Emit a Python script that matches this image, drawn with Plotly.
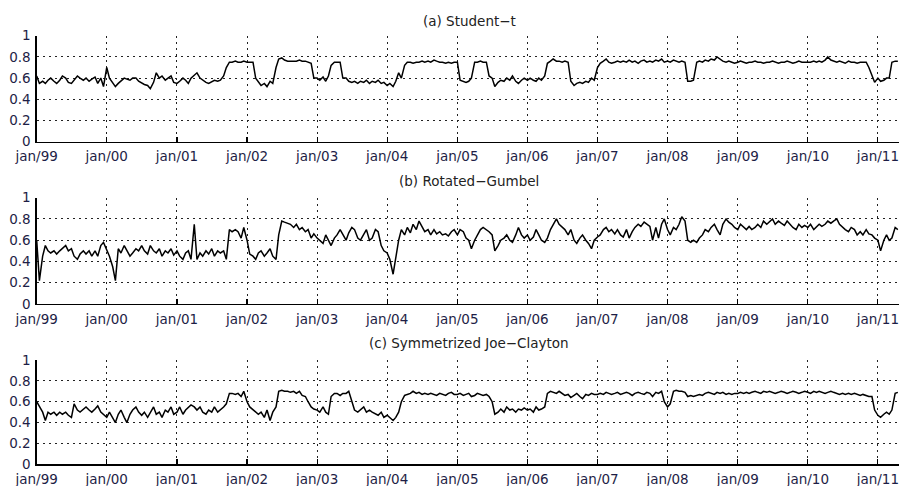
import pandas as pd
import plotly.graph_objects as go

# ---------------- data (semi-monthly readings, Jan 1999 - Apr 2011) ----------------
student_t = [
    # 1999
    0.62, 0.55, 0.57, 0.55, 0.58, 0.60, 0.57, 0.55, 0.58, 0.62, 0.60, 0.56,
    0.55, 0.58, 0.62, 0.60, 0.58, 0.60, 0.57, 0.59, 0.61, 0.55, 0.60, 0.52,
    # 2000
    0.70, 0.60, 0.55, 0.52, 0.55, 0.57, 0.60, 0.59, 0.58, 0.60, 0.60, 0.57,
    0.55, 0.54, 0.53, 0.50, 0.56, 0.65, 0.60, 0.62, 0.58, 0.60, 0.62, 0.56,
    # 2001
    0.55, 0.57, 0.60, 0.58, 0.55, 0.60, 0.63, 0.65, 0.60, 0.58, 0.56, 0.55,
    0.57, 0.58, 0.57, 0.58, 0.62, 0.70, 0.75, 0.75, 0.76, 0.75, 0.75, 0.76,
    # 2002
    0.75, 0.75, 0.75, 0.60, 0.57, 0.53, 0.55, 0.52, 0.57, 0.55, 0.70, 0.78,
    0.79, 0.77, 0.76, 0.76, 0.76, 0.76, 0.77, 0.76, 0.76, 0.75, 0.74, 0.60,
    # 2003
    0.60, 0.58, 0.61, 0.57, 0.62, 0.72, 0.75, 0.75, 0.75, 0.60, 0.60, 0.57,
    0.56, 0.57, 0.55, 0.57, 0.56, 0.58, 0.55, 0.57, 0.56, 0.58, 0.55, 0.56,
    # 2004
    0.53, 0.55, 0.52, 0.57, 0.65, 0.60, 0.72, 0.75, 0.75, 0.74, 0.75, 0.75,
    0.76, 0.75, 0.76, 0.75, 0.77, 0.76, 0.75, 0.75, 0.74, 0.75, 0.74, 0.75,
    # 2005
    0.75, 0.58, 0.57, 0.56, 0.57, 0.60, 0.75, 0.75, 0.76, 0.75, 0.75, 0.62,
    0.60, 0.52, 0.56, 0.58, 0.57, 0.60, 0.58, 0.62, 0.57, 0.55, 0.58, 0.60,
    # 2006
    0.58, 0.60, 0.58, 0.57, 0.60, 0.58, 0.62, 0.74, 0.76, 0.78, 0.76, 0.76,
    0.75, 0.76, 0.75, 0.57, 0.53, 0.55, 0.56, 0.55, 0.57, 0.56, 0.60, 0.58,
    # 2007
    0.70, 0.74, 0.76, 0.78, 0.75, 0.74, 0.75, 0.76, 0.75, 0.76, 0.75, 0.77,
    0.75, 0.76, 0.74, 0.76, 0.77, 0.75, 0.76, 0.75, 0.77, 0.76, 0.78, 0.75,
    # 2008
    0.76, 0.75, 0.77, 0.76, 0.75, 0.76, 0.75, 0.57, 0.57, 0.58, 0.75, 0.76,
    0.75, 0.77, 0.76, 0.78, 0.77, 0.80, 0.78, 0.76, 0.75, 0.76, 0.75, 0.74,
    # 2009
    0.75, 0.76, 0.75, 0.74, 0.75, 0.75, 0.76, 0.75, 0.75, 0.74, 0.75, 0.75,
    0.76, 0.75, 0.74, 0.75, 0.75, 0.76, 0.75, 0.74, 0.75, 0.76, 0.75, 0.75,
    # 2010
    0.75, 0.75, 0.76, 0.75, 0.76, 0.75, 0.77, 0.80, 0.77, 0.76, 0.75, 0.76,
    0.75, 0.74, 0.76, 0.75, 0.75, 0.74, 0.75, 0.75, 0.75, 0.70, 0.62, 0.56,
    # 2011
    0.60, 0.57, 0.58, 0.60, 0.60, 0.75, 0.76, 0.76,
]

rotated_gumbel = [
    # 1999
    0.60, 0.22, 0.45, 0.55, 0.50, 0.48, 0.50, 0.47, 0.50, 0.52, 0.55, 0.50,
    0.52, 0.45, 0.42, 0.47, 0.50, 0.47, 0.50, 0.45, 0.50, 0.45, 0.55, 0.58,
    # 2000
    0.50, 0.45, 0.35, 0.22, 0.52, 0.48, 0.55, 0.50, 0.45, 0.48, 0.52, 0.50,
    0.55, 0.50, 0.47, 0.55, 0.50, 0.48, 0.52, 0.45, 0.50, 0.48, 0.52, 0.46,
    # 2001
    0.50, 0.45, 0.42, 0.48, 0.50, 0.42, 0.75, 0.42, 0.48, 0.45, 0.50, 0.47,
    0.52, 0.45, 0.50, 0.48, 0.50, 0.42, 0.70, 0.68, 0.70, 0.68, 0.62, 0.72,
    # 2002
    0.60, 0.47, 0.45, 0.42, 0.48, 0.50, 0.45, 0.48, 0.52, 0.45, 0.42, 0.65,
    0.78, 0.77, 0.76, 0.75, 0.72, 0.75, 0.70, 0.72, 0.68, 0.70, 0.62, 0.66,
    # 2003
    0.62, 0.60, 0.57, 0.65, 0.60, 0.55, 0.62, 0.65, 0.70, 0.65, 0.60, 0.67,
    0.72, 0.70, 0.62, 0.60, 0.65, 0.70, 0.60, 0.62, 0.70, 0.68, 0.55, 0.50,
    # 2004
    0.48, 0.42, 0.28, 0.45, 0.60, 0.70, 0.65, 0.72, 0.67, 0.75, 0.70, 0.78,
    0.72, 0.68, 0.70, 0.65, 0.70, 0.66, 0.68, 0.65, 0.66, 0.64, 0.68, 0.70,
    # 2005
    0.65, 0.70, 0.68, 0.62, 0.60, 0.52, 0.60, 0.65, 0.70, 0.72, 0.70, 0.68,
    0.65, 0.50, 0.55, 0.60, 0.62, 0.65, 0.60, 0.58, 0.65, 0.72, 0.65, 0.62,
    # 2006
    0.65, 0.60, 0.63, 0.70, 0.65, 0.60, 0.58, 0.62, 0.70, 0.75, 0.80, 0.75,
    0.72, 0.70, 0.65, 0.70, 0.60, 0.57, 0.62, 0.65, 0.60, 0.57, 0.52, 0.60,
    # 2007
    0.63, 0.65, 0.70, 0.72, 0.68, 0.70, 0.66, 0.70, 0.65, 0.63, 0.70, 0.62,
    0.68, 0.72, 0.75, 0.73, 0.77, 0.75, 0.73, 0.60, 0.72, 0.62, 0.75, 0.80,
    # 2008
    0.70, 0.65, 0.72, 0.70, 0.75, 0.82, 0.78, 0.60, 0.58, 0.60, 0.58, 0.62,
    0.65, 0.70, 0.68, 0.72, 0.75, 0.70, 0.65, 0.75, 0.80, 0.77, 0.75, 0.72,
    # 2009
    0.70, 0.75, 0.72, 0.70, 0.73, 0.70, 0.72, 0.75, 0.72, 0.78, 0.75, 0.77,
    0.80, 0.75, 0.78, 0.76, 0.74, 0.78, 0.75, 0.72, 0.70, 0.75, 0.72, 0.74,
    # 2010
    0.72, 0.75, 0.70, 0.73, 0.75, 0.73, 0.75, 0.78, 0.76, 0.78, 0.80, 0.75,
    0.72, 0.70, 0.68, 0.72, 0.70, 0.65, 0.68, 0.65, 0.70, 0.66, 0.65, 0.62,
    # 2011
    0.60, 0.50, 0.60, 0.65, 0.60, 0.62, 0.72, 0.70,
]

joe_clayton = [
    # 1999
    0.60, 0.55, 0.50, 0.42, 0.50, 0.48, 0.50, 0.47, 0.50, 0.48, 0.50, 0.47,
    0.45, 0.58, 0.52, 0.50, 0.53, 0.55, 0.52, 0.50, 0.53, 0.56, 0.50, 0.48,
    # 2000
    0.45, 0.50, 0.45, 0.40, 0.48, 0.52, 0.45, 0.40, 0.48, 0.52, 0.55, 0.50,
    0.47, 0.50, 0.45, 0.50, 0.55, 0.48, 0.50, 0.45, 0.52, 0.50, 0.55, 0.48,
    # 2001
    0.50, 0.55, 0.48, 0.52, 0.55, 0.57, 0.55, 0.52, 0.55, 0.50, 0.48, 0.52,
    0.50, 0.55, 0.50, 0.52, 0.55, 0.58, 0.68, 0.68, 0.67, 0.68, 0.65, 0.70,
    # 2002
    0.60, 0.55, 0.52, 0.50, 0.48, 0.50, 0.45, 0.52, 0.42, 0.50, 0.55, 0.70,
    0.71, 0.70, 0.70, 0.69, 0.70, 0.68, 0.70, 0.66, 0.65, 0.60, 0.55, 0.53,
    # 2003
    0.52, 0.50, 0.55, 0.50, 0.48, 0.65, 0.68, 0.68, 0.66, 0.68, 0.68, 0.70,
    0.60, 0.52, 0.50, 0.52, 0.55, 0.50, 0.52, 0.50, 0.48, 0.47, 0.50, 0.45,
    # 2004
    0.47, 0.45, 0.42, 0.45, 0.50, 0.60, 0.66, 0.67, 0.68, 0.70, 0.68, 0.69,
    0.67, 0.68, 0.67, 0.68, 0.67, 0.66, 0.68, 0.67, 0.66, 0.68, 0.69, 0.67,
    # 2005
    0.67, 0.68, 0.66, 0.67, 0.68, 0.65, 0.66, 0.68, 0.67, 0.66, 0.67, 0.65,
    0.60, 0.48, 0.50, 0.53, 0.50, 0.55, 0.52, 0.53, 0.50, 0.53, 0.52, 0.54,
    # 2006
    0.52, 0.53, 0.50, 0.55, 0.52, 0.53, 0.55, 0.68, 0.70, 0.69, 0.68, 0.70,
    0.68, 0.66, 0.67, 0.64, 0.66, 0.68, 0.65, 0.63, 0.67, 0.66, 0.68, 0.67,
    # 2007
    0.67, 0.68, 0.67, 0.69, 0.68, 0.67, 0.68, 0.69, 0.67, 0.68, 0.69, 0.68,
    0.66, 0.68, 0.69, 0.68, 0.67, 0.69, 0.68, 0.65, 0.69, 0.68, 0.70, 0.60,
    # 2008
    0.55, 0.58, 0.70, 0.71, 0.70, 0.70, 0.69, 0.65, 0.66, 0.65, 0.66, 0.67,
    0.66, 0.68, 0.69, 0.68, 0.67, 0.69, 0.68, 0.69, 0.67, 0.68, 0.67, 0.68,
    # 2009
    0.68, 0.69, 0.68, 0.69, 0.68, 0.69, 0.70, 0.69, 0.68, 0.70, 0.69, 0.70,
    0.69, 0.68, 0.69, 0.70, 0.69, 0.68, 0.69, 0.70, 0.69, 0.68, 0.69, 0.70,
    # 2010
    0.69, 0.68, 0.70, 0.69, 0.70, 0.69, 0.68, 0.69, 0.70, 0.69, 0.68, 0.67,
    0.68, 0.67, 0.68, 0.67, 0.68, 0.67, 0.66, 0.67, 0.66, 0.65, 0.65, 0.52,
    # 2011
    0.47, 0.45, 0.48, 0.50, 0.48, 0.52, 0.68, 0.69,
]

dates = pd.date_range("1999-01-01", periods=len(student_t), freq="SMS")

panel_titles = ["(a) Student\u2212t", "(b) Rotated\u2212Gumbel", "(c) Symmetrized Joe\u2212Clayton"]
year_ticks = pd.date_range("1999-01-01", "2011-01-01", freq="YS")
year_labels = ["jan/99", "jan/00", "jan/01", "jan/02", "jan/03", "jan/04", "jan/05",
               "jan/06", "jan/07", "jan/08", "jan/09", "jan/10", "jan/11"]
y_ticks = [0, 0.2, 0.4, 0.6, 0.8, 1]
y_labels = ["0", "0.2", "0.4", "0.6", "0.8", "1"]

series = [student_t, rotated_gumbel, joe_clayton]

# ---------------- layout geometry (pixels) ----------------
W, H = 899, 486
x_left = 36.7
panel_px = [(35.7, 141.7), (197.7, 304.0), (360.0, 464.3)]   # (top, bottom) in px
title_px = [20.5, 181.0, 342.5]

TEXT = "#1e1e46"
FONT = "DejaVu Sans"

fig = go.Figure()
layout = dict(
    template="none",
    width=W, height=H, margin=dict(l=0, r=0, t=0, b=0, autoexpand=False),
    paper_bgcolor="white", plot_bgcolor="white", showlegend=False,
    font=dict(family=FONT, size=13.5, color=TEXT),
    annotations=[],
)

for i, vals in enumerate(series):
    n = "" if i == 0 else str(i + 1)
    fig.add_trace(go.Scatter(
        x=dates, y=vals, mode="lines",
        line=dict(color="black", width=1.5),
        xaxis="x" + n, yaxis="y" + n, hoverinfo="skip", cliponaxis=True,
    ))
    top, bot = panel_px[i]
    layout["xaxis" + n] = dict(
        domain=[x_left / W, 1.0], anchor="y" + n,
        range=["1999-01-01", "2011-04-21"], automargin=False,
        tickmode="array", tickvals=list(year_ticks), ticktext=year_labels,
        ticks="inside", ticklen=5, tickwidth=1.2, tickcolor="black",
        showline=True, linecolor="black", linewidth=1.3,
        showgrid=True, gridcolor="#222", gridwidth=1, griddash="2px,4px",
        zeroline=False, tickfont=dict(family=FONT, size=13.5, color=TEXT),
        ticklabelstandoff=2, ticklabeloverflow="allow",
    )
    layout["yaxis" + n] = dict(
        domain=[1 - bot / H, 1 - top / H], anchor="x" + n,
        range=[0, 1], automargin=False,
        tickmode="array", tickvals=y_ticks, ticktext=y_labels,
        ticks="", showline=True, linecolor="black", linewidth=1.3,
        showgrid=True, gridcolor="#222", gridwidth=1, griddash="2px,4px",
        zeroline=False, tickfont=dict(family=FONT, size=13.5, color=TEXT),
        ticklabelstandoff=2, ticklabeloverflow="allow",
    )
    layout["annotations"].append(dict(
        text=panel_titles[i], xref="paper", yref="paper",
        x=469 / W, y=1 - title_px[i] / H, xanchor="center", yanchor="middle",
        showarrow=False, font=dict(family=FONT, size=13.5, color="#222"),
    ))

fig.update_layout(**layout)
fig.write_html(
    "out.html",
    config={"displayModeBar": False, "staticPlot": True},
    post_script="document.body.style.margin='0';document.body.style.overflow='hidden';",
)
